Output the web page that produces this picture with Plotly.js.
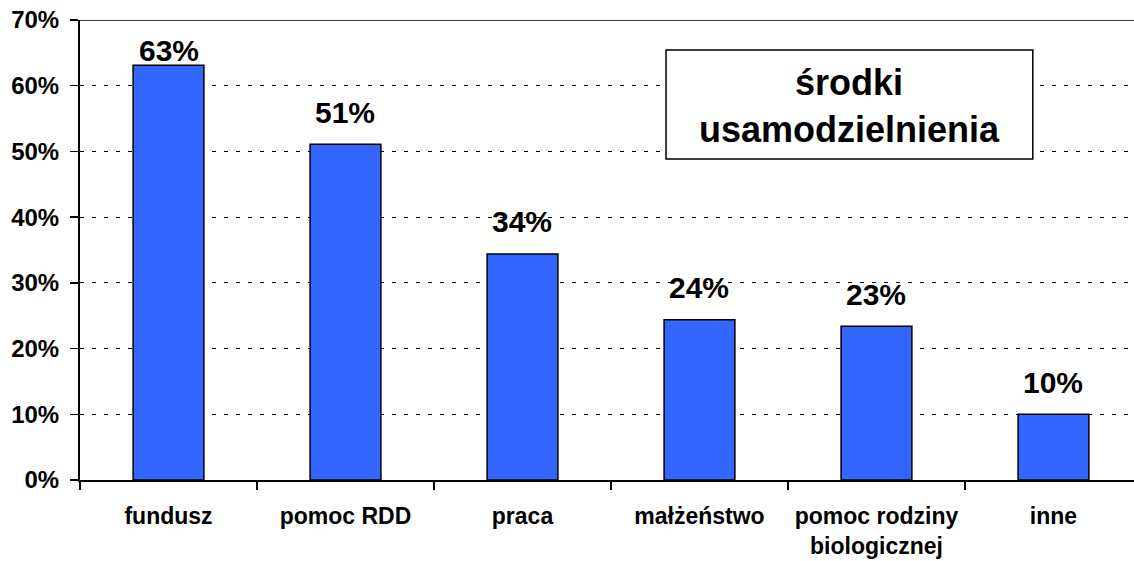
<!DOCTYPE html>
<html>
<head>
<meta charset="utf-8">
<script src="https://cdn.plot.ly/plotly-3.0.1.min.js"></script>
<style>
html,body{margin:0;padding:0;background:#fff;}
#chart{width:1134px;height:561px;}
</style>
</head>
<body>
<div id="chart"></div>
<script>
var categories = ["fundusz", "pomoc RDD", "praca", "małżeństwo", "pomoc rodziny<br>biologicznej", "inne"];
var values = [63.1, 51.1, 34.4, 24.4, 23.4, 10.0];
var yTickVals = [0, 10, 20, 30, 40, 50, 60, 70];
var yTickText = ["0%", "10%", "20%", "30%", "40%", "50%", "60%", "70%"];
var boxTitle = "środki<br>usamodzielnienia";

var FONT = "Liberation Sans, Arial, sans-serif";

var trace = {
  type: "bar",
  x: categories,
  y: values,
  width: 0.4,
  marker: {color: "#3366FF", line: {color: "#000000", width: 1.5}},
  hoverinfo: "skip"
};

var annotations = values.map(function (v, i) {
  return {
    x: categories[i],
    y: Math.min(v + 4.9, 65.4),
    xref: "x", yref: "y",
    text: "<b>" + Math.round(v) + "%</b>",
    showarrow: false,
    xanchor: "center", yanchor: "middle",
    font: {family: FONT, size: 30, color: "#000"}
  };
});

annotations.push({
  x: 0.730, y: 0.814, xref: "paper", yref: "paper",
  text: "<b>" + boxTitle + "</b>",
  showarrow: false,
  xanchor: "center", yanchor: "middle",
  font: {family: FONT, size: 36, color: "#000"}
});

var layout = {
  width: 1134, height: 561,
  margin: {l: 80, r: 0, t: 20, b: 81},
  paper_bgcolor: "#fff", plot_bgcolor: "#fff",
  showlegend: false,
  font: {family: FONT, color: "#000"},
  xaxis: {
    type: "category",
    range: [-0.5, 5.455],
    showline: true, linecolor: "#000", linewidth: 2,
    ticks: "outside", ticklen: 8, tickwidth: 1.5, tickcolor: "#000",
    tickson: "boundaries",
    showgrid: false, zeroline: false,
    tickfont: {family: FONT, size: 23, color: "#000", weight: "bold"},
    ticklabelstandoff: 14
  },
  yaxis: {
    range: [0, 70],
    tickvals: yTickVals, ticktext: yTickText,
    showline: true, linecolor: "#000", linewidth: 2,
    ticks: "outside", ticklen: 8, tickwidth: 1.5, tickcolor: "#000",
    showgrid: true, gridcolor: "#000", gridwidth: 1, griddash: "4px,8px",
    zeroline: false,
    tickfont: {family: FONT, size: 24, color: "#000", weight: "bold"},
    ticklabelstandoff: 6
  },
  shapes: [
    {type: "line", xref: "paper", yref: "y", x0: 0, x1: 1, y0: 70, y1: 70,
     line: {color: "#000", width: 1.5}},
    {type: "rect", xref: "paper", yref: "paper", x0: 0.556, x1: 0.904, y0: 0.698, y1: 0.935,
     fillcolor: "#fff", line: {color: "#000", width: 1.5}, layer: "above"}
  ],
  annotations: annotations
};

Plotly.newPlot("chart", [trace], layout, {staticPlot: true, displayModeBar: false});
</script>
</body>
</html>
